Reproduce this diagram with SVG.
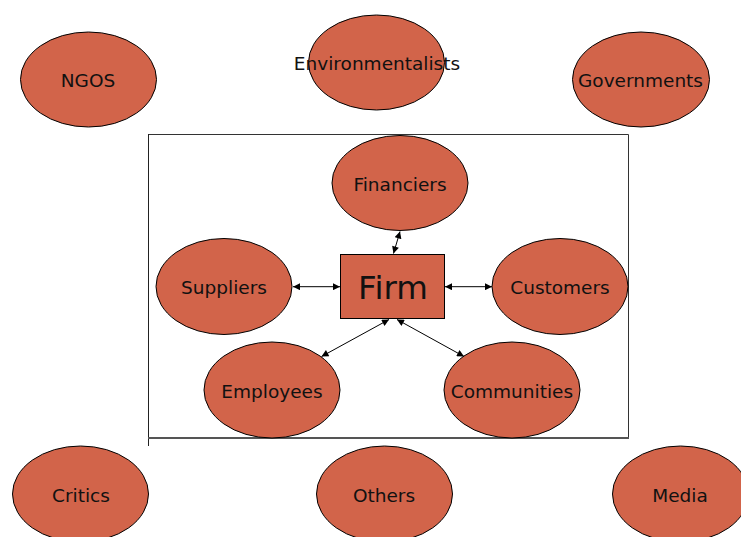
<svg xmlns="http://www.w3.org/2000/svg" width="741" height="537" viewBox="0 0 741 537">
<defs>
<style>
.n{fill:#D2644A;stroke:#000;stroke-width:1}
.t{font-family:"DejaVu Sans",Verdana,sans-serif;font-size:18.5px;fill:#111;text-anchor:middle;dominant-baseline:central}
.c{stroke:#000;stroke-width:1;fill:none;marker-start:url(#a);marker-end:url(#a)}
</style>
<marker id="a" viewBox="0 0 10 10" refX="10" refY="5" markerWidth="8" markerHeight="7" markerUnits="userSpaceOnUse" orient="auto-start-reverse">
<path d="M0,0 L10,5 L0,10 Z" fill="#000"/>
</marker>
</defs>
<rect width="741" height="537" fill="#fff"/>
<g id="frame">
<path d="M148.5,134.5 H628.5 V438" fill="none" stroke="#333" stroke-width="1"/>
<line x1="148.5" y1="134" x2="148.5" y2="446" stroke="#222" stroke-width="1"/>
<line x1="148" y1="438" x2="629" y2="438" stroke="#555" stroke-width="2"/>
</g>
<g id="ngos"><ellipse class="n" cx="88.5" cy="79.5" rx="68" ry="47.5"/><text class="t" x="88" y="80">NGOS</text></g>
<g id="environmentalists"><ellipse class="n" cx="376.5" cy="62.5" rx="68" ry="47.5"/><text class="t" x="377" y="63.5">Environmentalists</text></g>
<g id="governments"><ellipse class="n" cx="641" cy="79.5" rx="68.5" ry="47.5"/><text class="t" x="640.5" y="80">Governments</text></g>
<g id="financiers"><ellipse class="n" cx="400" cy="183" rx="68" ry="47.5"/><text class="t" x="400" y="184">Financiers</text></g>
<g id="suppliers"><ellipse class="n" cx="224" cy="286.5" rx="68" ry="48"/><text class="t" x="224" y="287.5">Suppliers</text></g>
<g id="firm"><rect class="n" x="340.5" y="254.5" width="104" height="64"/><text class="t" x="393" y="288" style="font-size:32.5px">Firm</text></g>
<g id="customers"><ellipse class="n" cx="560" cy="286.5" rx="68" ry="48"/><text class="t" x="560" y="287.5">Customers</text></g>
<g id="employees"><ellipse class="n" cx="272" cy="390" rx="68" ry="48"/><text class="t" x="272" y="391">Employees</text></g>
<g id="communities"><ellipse class="n" cx="512" cy="390" rx="68" ry="48"/><text class="t" x="512" y="391">Communities</text></g>
<g id="critics"><ellipse class="n" cx="80.5" cy="494" rx="68" ry="48"/><text class="t" x="81" y="495">Critics</text></g>
<g id="others"><ellipse class="n" cx="384.5" cy="494" rx="68" ry="48"/><text class="t" x="384" y="495">Others</text></g>
<g id="media"><ellipse class="n" cx="680.5" cy="494" rx="68" ry="48"/><text class="t" x="680" y="495">Media</text></g>
<g id="connectors">
<line class="c" x1="393.5" y1="253.5" x2="400" y2="231.5"/>
<line class="c" x1="293" y1="286.7" x2="340" y2="286.7"/>
<line class="c" x1="445" y1="286.7" x2="492" y2="286.7"/>
<line class="c" x1="389" y1="319.5" x2="321.5" y2="356.5"/>
<line class="c" x1="397" y1="319.5" x2="464" y2="356.5"/>
</g>
</svg>
